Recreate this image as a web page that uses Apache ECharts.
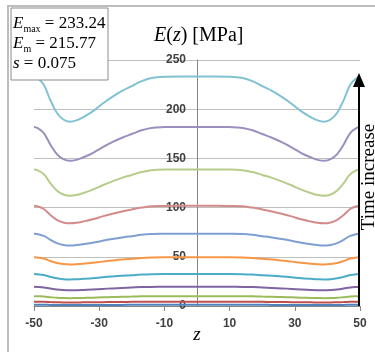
<!DOCTYPE html>
<html>
<head>
<meta charset="utf-8">
<script src="https://cdn.jsdelivr.net/npm/echarts@6/dist/echarts.min.js"></script>
<style>
  html, body { margin: 0; padding: 0; background: #fff; }
  #main { width: 375px; height: 352px; }
</style>
</head>
<body>
<div id="main"></div>
<script>
// z positions (mm) where the curves were read
const zVals = [-50,-49,-47,-45,-43,-41,-39,-37,-35,-32,-29,-26,-23,-20,-17,-14,-10,-5,0,5,10,14,17,20,23,26,29,32,35,37,39,41,43,45,47,49,50];

// E(z) curves, earliest time first
const e01 = [1.2,1.2,1.2,1.1,1.0,1.0,1.0,1.0,1.0,1.0,1.1,1.1,1.1,1.2,1.2,1.2,1.2,1.2,1.2,1.2,1.2,1.2,1.2,1.2,1.1,1.1,1.1,1.0,1.0,1.0,1.0,1.0,1.0,1.1,1.2,1.2,1.2];
const e02 = [4.4,4.4,4.3,4.0,3.8,3.6,3.6,3.6,3.7,3.8,3.9,4.0,4.1,4.2,4.3,4.4,4.4,4.4,4.4,4.4,4.4,4.4,4.3,4.2,4.1,4.0,3.9,3.8,3.7,3.6,3.6,3.6,3.8,4.0,4.3,4.4,4.4];
const e03 = [10.0,9.9,9.6,9.0,8.4,8.1,8.0,8.1,8.2,8.5,8.8,9.1,9.4,9.6,9.8,9.9,10.0,10.0,10.0,10.0,10.0,9.9,9.8,9.6,9.4,9.1,8.8,8.5,8.2,8.1,8.0,8.1,8.4,9.0,9.6,9.9,10.0];
const e04 = [19.5,19.4,18.9,17.7,16.7,16.2,16.0,16.1,16.3,16.8,17.4,17.9,18.4,18.8,19.2,19.4,19.5,19.5,19.5,19.5,19.5,19.4,19.2,18.8,18.4,17.9,17.4,16.8,16.3,16.1,16.0,16.2,16.7,17.7,18.9,19.4,19.5];
const e05 = [32.5,32.3,31.5,29.6,28.1,27.3,27.0,27.2,27.6,28.3,29.2,30.0,30.7,31.3,31.9,32.3,32.5,32.5,32.5,32.5,32.5,32.3,31.9,31.3,30.7,30.0,29.2,28.3,27.6,27.2,27.0,27.3,28.1,29.6,31.5,32.3,32.5];
const e06 = [49.5,49.3,48.2,45.7,43.7,42.6,42.2,42.4,42.9,43.9,45.1,46.2,47.2,48.0,48.8,49.3,49.5,49.5,49.5,49.5,49.5,49.3,48.8,48.0,47.2,46.2,45.1,43.9,42.9,42.4,42.2,42.6,43.7,45.7,48.2,49.3,49.5];
const e07 = [73.5,73.1,71.3,67.3,63.9,62.1,61.5,61.9,62.7,64.3,66.3,68.1,69.7,71.0,72.3,73.1,73.4,73.5,73.5,73.5,73.4,73.1,72.3,71.0,69.7,68.1,66.3,64.3,62.7,61.9,61.5,62.1,63.9,67.3,71.3,73.1,73.5];
const e08 = [101.8,101.3,98.6,92.5,87.6,84.9,84.0,84.5,85.8,88.1,91.1,93.8,96.1,98.1,100.0,101.3,101.7,101.8,101.8,101.8,101.7,101.3,100.0,98.1,96.1,93.8,91.1,88.1,85.8,84.5,84.0,84.9,87.6,92.5,98.6,101.3,101.8];
const e09 = [138.8,138.0,134.0,124.9,117.4,113.3,112.0,112.8,114.7,118.2,122.7,126.7,130.2,133.2,136.1,138.0,138.7,138.8,138.8,138.8,138.7,138.0,136.1,133.2,130.2,126.7,122.7,118.2,114.7,112.8,112.0,113.3,117.4,124.9,134.0,138.0,138.8];
const e10 = [182.0,181.0,175.8,164.1,154.4,149.2,147.5,148.5,150.9,155.4,161.3,166.5,171.0,174.8,178.6,181.0,181.8,182.0,182.0,182.0,181.8,181.0,178.6,174.8,171.0,166.5,161.3,155.4,150.9,148.5,147.5,149.2,154.4,164.1,175.8,181.0,182.0];
const e11 = [233.2,231.8,224.9,209.3,196.4,189.5,187.2,188.6,191.8,197.8,205.6,212.5,218.5,223.5,228.6,231.8,233.0,233.2,233.2,233.2,233.0,231.8,228.6,223.5,218.5,212.5,205.6,197.8,191.8,188.6,187.2,189.5,196.4,209.3,224.9,231.8,233.2];

const curves = [e01, e02, e03, e04, e05, e06, e07, e08, e09, e10, e11];
const colors = ['#4F81BD', '#C0504D', '#9BBB59', '#8064A2', '#4BACC6', '#F79646',
                '#7F9FD3', '#D38B8A', '#B5CC8A', '#9C8FBE', '#80C2D2'];

const xTickLabels = [-50, -30, -10, 10, 30, 50];
const yTicks = { min: 0, max: 250, step: 50 };

const serif = 'Liberation Serif';
const tickFont = { fontFamily: 'Liberation Sans', fontSize: 12, fontWeight: 'bold', color: '#404040' };

const myChart = echarts.init(document.getElementById('main'), null, { renderer: 'canvas' });

// plot box: 34..360 wide, so z = 0 sits 163px right of the left edge
const gridLeft = 34, gridRight = 15;
const yAxisShift = (375 - gridLeft - gridRight) / 2;

myChart.setOption({
  animation: false,
  backgroundColor: '#fff',
  title: {
    text: '{i|E}({i|z}) [MPa]',
    left: 149,
    top: 21,
    textStyle: {
      fontFamily: serif, fontSize: 20, fontWeight: 'normal', color: '#000',
      rich: { i: { fontFamily: serif, fontSize: 20, fontStyle: 'italic', color: '#000' } }
    }
  },
  grid: { left: gridLeft, right: gridRight, top: 60, bottom: 46, outerBoundsMode: 'none' },
  xAxis: {
    type: 'value',
    min: -50,
    max: 50,
    interval: 10,
    name: 'z',
    nameLocation: 'middle',
    nameGap: 19,
    nameMoveOverlap: false,
    nameTextStyle: { fontFamily: serif, fontSize: 19, fontStyle: 'italic', color: '#000' },
    axisLine: { onZero: false, lineStyle: { color: '#868686', width: 1 } },
    axisTick: { customValues: xTickLabels, length: 5, lineStyle: { color: '#868686' } },
    axisLabel: Object.assign({ customValues: xTickLabels, margin: 12 }, tickFont),
    splitLine: { show: false }
  },
  yAxis: {
    type: 'value',
    min: yTicks.min,
    max: yTicks.max,
    interval: yTicks.step,
    position: 'left',
    offset: -yAxisShift,
    axisLine: { show: true, onZero: false, lineStyle: { color: '#868686', width: 1 } },
    axisTick: { show: false },
    axisLabel: Object.assign({ margin: 11 }, tickFont),
    splitLine: { lineStyle: { color: '#BFBFBF', width: 1 } }
  },
  series: curves.map((vals, k) => ({
    type: 'line',
    data: zVals.map((z, i) => [z, vals[i]]),
    smooth: 0.4,
    showSymbol: false,
    lineStyle: { color: colors[k], width: 2 },
    z: 2 + k
  })),
  graphic: [
    // chart frame
    { type: 'rect', z: 0, shape: { x: 8, y: 6, width: 420, height: 420 },
      style: { fill: null, stroke: '#BDBDBD', lineWidth: 2 } },
    // parameter box
    { type: 'rect', z: 100, shape: { x: 11, y: 8, width: 97, height: 72 },
      style: { fill: '#fff', stroke: '#8C8C8C', lineWidth: 1 } },
    { type: 'text', z: 101, x: 13, y: 14,
      style: {
        text: '{i|E}{s|max}{n| = 233.24}\n{i|E}{s|m}{n| = 215.77}\n{i|s}{n| = 0.075}',
        fontFamily: serif, fontSize: 17, fill: '#000', lineHeight: 20,
        rich: {
          i: { fontFamily: serif, fontSize: 17, fontStyle: 'italic', lineHeight: 20 },
          s: { fontFamily: serif, fontSize: 10, lineHeight: 10, verticalAlign: 'bottom' },
          n: { fontFamily: serif, fontSize: 17, lineHeight: 20 }
        }
      } },
    // time arrow
    { type: 'line', z: 50, shape: { x1: 359, y1: 306, x2: 359, y2: 84 },
      style: { stroke: '#000', lineWidth: 2 } },
    { type: 'polygon', z: 50, shape: { points: [[359, 73], [353, 87], [365, 87]] },
      style: { fill: '#000' } },
    { type: 'text', z: 50, x: 369.5, y: 177, rotation: Math.PI / 2,
      style: { text: 'Time increase', fontFamily: serif, fontSize: 19, fill: '#000',
               align: 'center', verticalAlign: 'middle' } }
  ]
});
</script>
</body>
</html>
